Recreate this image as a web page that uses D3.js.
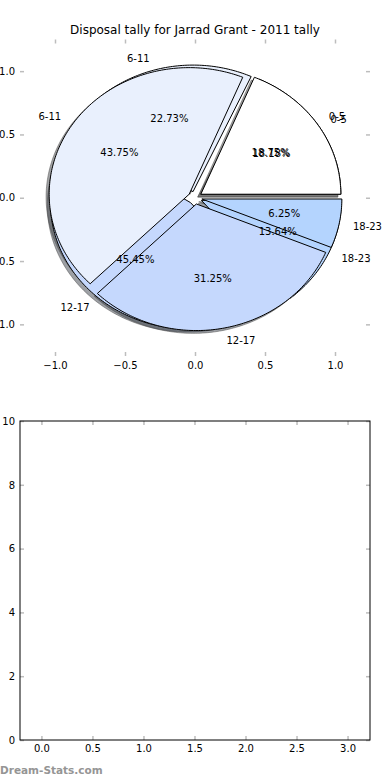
<!DOCTYPE html>
<html lang="en">
<head>
<meta charset="utf-8">
<title>Disposal tally for Jarrad Grant - 2011 tally</title>
<script src="https://d3js.org/d3.v7.min.js"></script>
<style>
  body { margin: 0; background: #fff; }
  text { font-family: "DejaVu Sans", sans-serif; }
</style>
</head>
<body>
<div id="chart"></div>
<script>
// data
var categories = ["0-5", "6-11", "12-17", "18-23"];
var tallyBack = [4, 5, 10, 3];    // pie drawn first (underneath)
var tallyFront = [3, 7, 5, 1];    // pie drawn on top
var sliceColors = ["#ffffff", "#e9f0fd", "#c5d8fd", "#b4d4fe"];
var explode = [0.05, 0.05, 0.05, 0.05];
var pieTicks = [-1, -0.5, 0, 0.5, 1];
var emptyXTicks = [0, 0.5, 1, 1.5, 2, 2.5, 3];
var emptyYTicks = [0, 2, 4, 6, 8, 10];

var W = 390, H = 780;
var svg = d3.select("#chart").append("svg")
    .attr("width", W).attr("height", H);

// ---------- top axes: the two pies ----------
var top0 = 39.5, bot0 = 356;
var x = d3.scaleLinear().domain([-1.25, 1.25]).range([20, 370]);
var y = d3.scaleLinear().domain([-1.25, 1.25]).range([bot0, top0]);

var tickColor = "#bdbdbd";

function styleAxis(g) {
  g.select(".domain").remove();
  g.selectAll(".tick line").attr("stroke", tickColor).attr("stroke-width", 1.5);
  g.selectAll(".tick text").attr("fill", "#000").style("font-size", "10px")
    .style("font-family", "DejaVu Sans, sans-serif");
}

svg.append("g").attr("transform", "translate(0," + bot0 + ")")
  .call(d3.axisBottom(x).tickValues(pieTicks).tickFormat(d3.format(".1f")).tickSize(-4).tickPadding(6))
  .call(styleAxis);
svg.append("g").attr("transform", "translate(0," + top0 + ")")
  .call(d3.axisTop(x).tickValues(pieTicks).tickFormat("").tickSize(-4))
  .call(styleAxis);
svg.append("g").attr("transform", "translate(20,0)")
  .call(d3.axisLeft(y).tickValues(pieTicks).tickFormat(d3.format(".1f")).tickSize(-4).tickPadding(5))
  .call(styleAxis);
svg.append("g").attr("transform", "translate(370,0)")
  .call(d3.axisRight(y).tickValues(pieTicks).tickFormat("").tickSize(-4))
  .call(styleAxis);

svg.append("text")
  .attr("x", 195).attr("y", 34)
  .attr("text-anchor", "middle")
  .style("font-size", "12px")
  .text("Disposal tally for Jarrad Grant - 2011 tally");

var pie = d3.pie().sort(null).startAngle(0).endAngle(2 * Math.PI);
var line = d3.line();

// wedge outline in data units -> pixels (angles counter-clockwise from +x)
function wedgePath(cx, cy, t1, t2) {
  var pts = [[x(cx), y(cy)]];
  var n = Math.max(2, Math.ceil((t2 - t1) / (Math.PI / 180)));
  for (var i = 0; i <= n; i++) {
    var t = t1 + (t2 - t1) * i / n;
    pts.push([x(cx + Math.cos(t)), y(cy + Math.sin(t))]);
  }
  return line(pts) + "Z";
}

function layout(values) {
  var total = d3.sum(values);
  return pie(values).map(function(d, i) {
    var mid = (d.startAngle + d.endAngle) / 2;
    return {
      i: i, t1: d.startAngle, t2: d.endAngle, mid: mid,
      cx: explode[i] * Math.cos(mid), cy: explode[i] * Math.sin(mid),
      pct: d3.format(".2f")(100 * d.value / total) + "%"
    };
  });
}

var pies = [layout(tallyBack), layout(tallyFront)];
var shadowLayer = svg.append("g");
var wedgeLayer = svg.append("g");
var textLayer = svg.append("g");

pies.forEach(function(slices) {
  shadowLayer.selectAll(null).data(slices).enter().append("path")
    .attr("d", function(d) { return wedgePath(d.cx - 0.022, d.cy - 0.022, d.t1, d.t2); })
    .attr("fill", function(d) {
      var c = d3.rgb(sliceColors[d.i]);
      return d3.rgb(c.r * 0.3, c.g * 0.3, c.b * 0.3);
    })
    .attr("fill-opacity", 0.5)
    .attr("stroke", "#4c4c4c").attr("stroke-opacity", 0.5).attr("stroke-width", 1);

  wedgeLayer.selectAll(null).data(slices).enter().append("path")
    .attr("d", function(d) { return wedgePath(d.cx, d.cy, d.t1, d.t2); })
    .attr("fill", function(d) { return sliceColors[d.i]; })
    .attr("stroke", "#000").attr("stroke-width", 1)
    .attr("stroke-linejoin", "round");

  slices.forEach(function(d) {
    var lx = d.cx + 1.1 * Math.cos(d.mid), ly = d.cy + 1.1 * Math.sin(d.mid);
    textLayer.append("text")
      .attr("x", x(lx)).attr("y", y(ly))
      .attr("dy", "0.35em")
      .attr("text-anchor", lx > 0 ? "start" : "end")
      .style("font-size", "10px")
      .text(categories[d.i]);
    var px = d.cx + 0.6 * Math.cos(d.mid), py = d.cy + 0.6 * Math.sin(d.mid);
    textLayer.append("text")
      .attr("x", x(px)).attr("y", y(py))
      .attr("dy", "0.35em")
      .attr("text-anchor", "middle")
      .style("font-size", "10px")
      .text(d.pct);
  });
});

// ---------- bottom axes: empty ----------
var x2 = d3.scaleLinear().domain([-0.21, 3.22]).range([20, 370]);
var y2 = d3.scaleLinear().domain([0, 10]).range([740, 421]);

svg.append("g").attr("transform", "translate(0,740)")
  .call(d3.axisBottom(x2).tickValues(emptyXTicks).tickFormat(d3.format(".1f")).tickSize(-4).tickPadding(5))
  .call(styleAxis);
svg.append("g").attr("transform", "translate(0,421)")
  .call(d3.axisTop(x2).tickValues(emptyXTicks).tickFormat("").tickSize(-4))
  .call(styleAxis);
svg.append("g").attr("transform", "translate(20,0)")
  .call(d3.axisLeft(y2).tickValues(emptyYTicks).tickFormat(d3.format("d")).tickSize(-4).tickPadding(5))
  .call(styleAxis);
svg.append("g").attr("transform", "translate(370,0)")
  .call(d3.axisRight(y2).tickValues(emptyYTicks).tickFormat("").tickSize(-4))
  .call(styleAxis);

svg.append("rect")
  .attr("x", 20).attr("y", 421)
  .attr("width", 350).attr("height", 319)
  .attr("fill", "none").attr("stroke", "#000").attr("stroke-width", 1);

// watermark
svg.append("text")
  .attr("x", 0).attr("y", 774)
  .style("font-size", "10.5px").style("font-weight", "bold")
  .attr("fill", "#959595")
  .text("Dream-Stats.com");
</script>
</body>
</html>
